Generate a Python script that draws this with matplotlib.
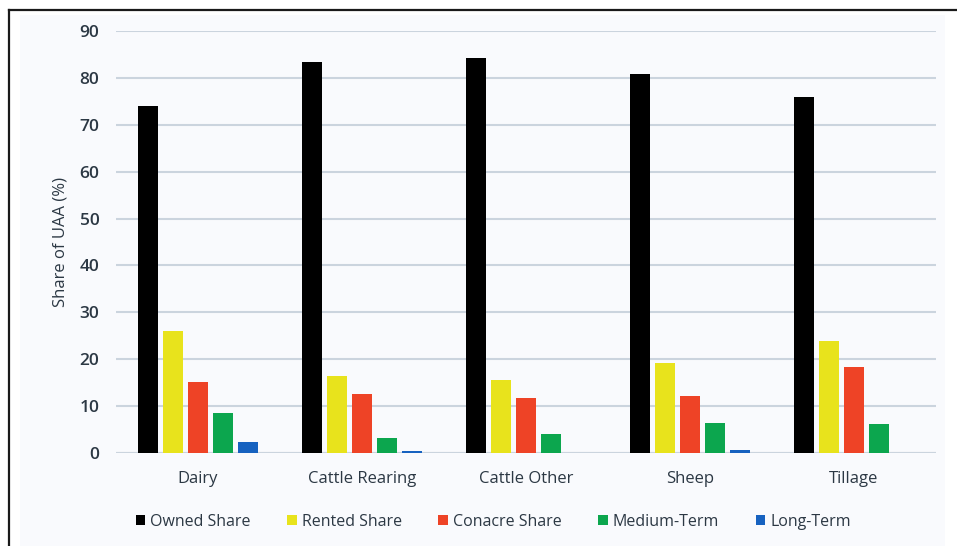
import numpy as np
import matplotlib.pyplot as plt
from matplotlib.patches import Rectangle
from matplotlib.lines import Line2D

# land tenure share of UAA by farm system
systems = ["Dairy", "Cattle Rearing", "Cattle Other", "Sheep", "Tillage"]
owned = [74.0, 83.4, 84.2, 80.8, 75.9]
rented = [26.0, 16.4, 15.5, 19.1, 23.9]
conacre = [15.2, 12.6, 11.7, 12.2, 18.3]
medium_term = [8.5, 3.3, 4.1, 6.3, 6.1]
long_term = [2.3, 0.5, 0.0, 0.7, 0.0]

series = [owned, rented, conacre, medium_term, long_term]
names = ["Owned Share", "Rented Share", "Conacre Share", "Medium-Term", "Long-Term"]
colors = ["#000000", "#e8e31c", "#ee4326", "#0ca64e", "#1762c0"]

txt_col = "#2c3844"
plt.rcParams['font.family'] = ['Open Sans', 'DejaVu Sans']

fig = plt.figure(figsize=(9.57, 5.46), dpi=100)
fig.patch.set_facecolor("white")

# panel background and the frame on the left/top
fig.add_artist(Rectangle((20/957, 0), 925/957, 1 - 15/546, transform=fig.transFigure,
                         facecolor="#f9fafd", edgecolor="none", zorder=0))
fig.add_artist(Line2D([9/957, 9/957], [0, 1 - 10/546], transform=fig.transFigure,
                      color="#1a1a1a", lw=1.6))
fig.add_artist(Line2D([9/957, 1], [1 - 10/546, 1 - 10/546], transform=fig.transFigure,
                      color="#1a1a1a", lw=1.6))

ax = fig.add_axes([116/957, 1 - 453/546, 820/957, 422/546])
ax.set_facecolor("none")

x = np.arange(len(systems))
width = 0.122
pitch = 0.152
for i, (vals, name, c) in enumerate(zip(series, names, colors)):
    ax.bar(x + (i - 2) * pitch, vals, width, color=c, label=name, zorder=3)

ax.set_xlim(-0.5, 4.5)
ax.set_ylim(0, 90)
ax.set_yticks(range(0, 91, 10))
ax.yaxis.grid(True, color="#cbd4de", lw=1.5, zorder=0)
ax.set_axisbelow(True)
for s in ["left", "right", "top", "bottom"]:
    ax.spines[s].set_visible(False)
ax.axhline(0, color="#cbd4de", lw=1.5, zorder=1)

ax.set_xticks(x)
ax.set_xticklabels(systems, fontsize=12, color=txt_col, fontweight="medium")
ax.tick_params(axis="both", length=0, labelcolor=txt_col)
ax.tick_params(axis="x", pad=13)
ax.tick_params(axis="y", pad=12, labelsize=12.5)
for lab in ax.get_yticklabels():
    lab.set_fontweight("semibold")

ax.set_ylabel("Share of UAA (%)", fontsize=12, color=txt_col, labelpad=8)

ax.legend(loc="upper center", bbox_to_anchor=(0.46, -0.11), ncol=5, frameon=False,
          fontsize=11.5, handlelength=0.6, handleheight=0.6, handletextpad=0.3,
          columnspacing=2.3, labelcolor=txt_col)

fig.savefig("out.png", dpi=100)
